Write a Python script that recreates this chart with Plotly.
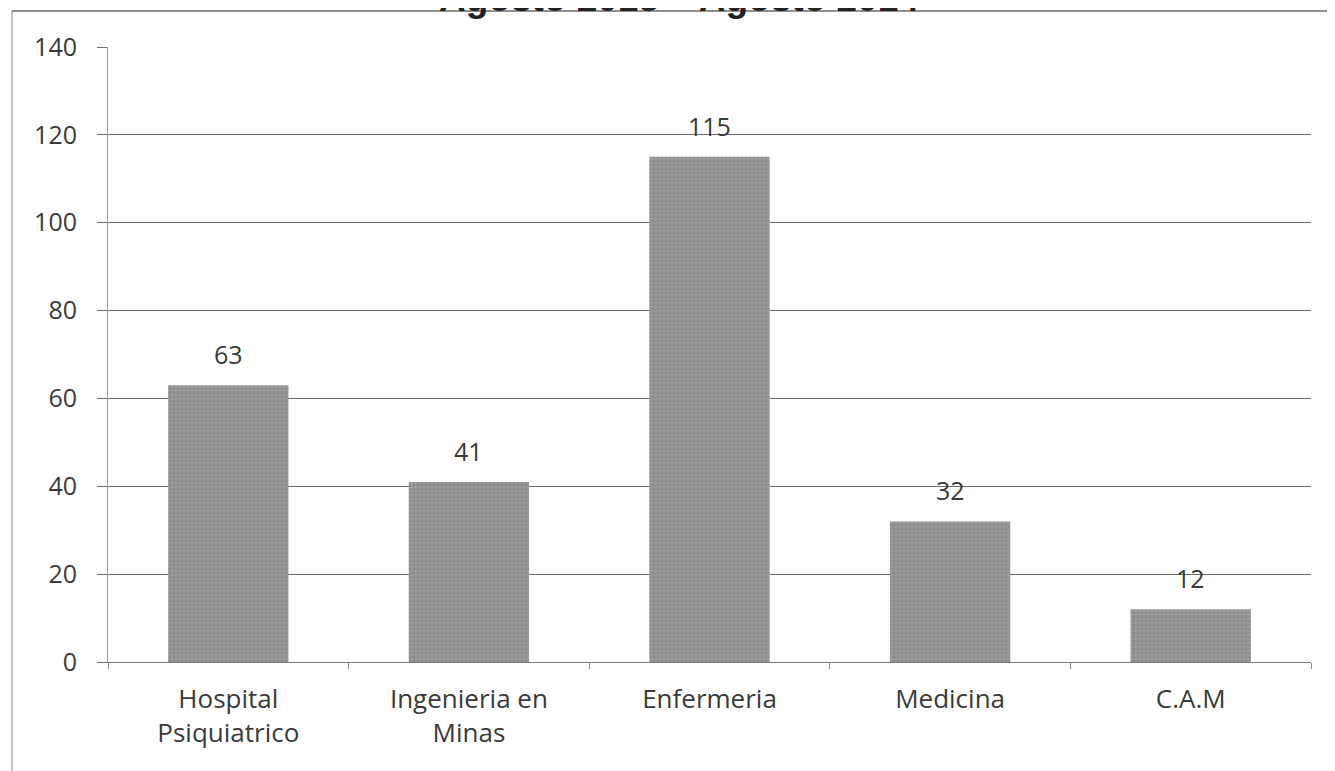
import plotly.graph_objects as go

categories = ["Hospital<br>Psiquiatrico", "Ingenieria en<br>Minas", "Enfermeria", "Medicina", "C.A.M"]
values = [63, 41, 115, 32, 12]
y_ticks = [0, 20, 40, 60, 80, 100, 120, 140]
title_text = "Agosto 2013 – Agosto 2014"

# page has an 8px body margin; figure is sized to fill the rest of the window
OFF = 8
W, H = 1335 - OFF, 771 - OFF
PL, PR, PT, PB = 108, 1311, 47, 662          # plot area in page pixels
L, R, T, B = PL - OFF, W - (PR - OFF), PT - OFF, H - (PB - OFF)

def px_x(p):
    return (p - PL) / (PR - PL)

def px_y(p):
    return (PB - p) / (PB - PT)

FONT = "Open Sans"
TXT = "#3a3a3a"
FS = 25

fig = go.Figure()
fig.add_trace(go.Bar(
    x=categories, y=values,
    marker=dict(color="#8e8e8e", line=dict(width=0),
                pattern=dict(shape=".", fgcolor="#7a7a7a", bgcolor="#9a9a9a", size=4, solidity=0.4)),
    hoverinfo="skip",
))

for c, v in zip(categories, values):
    fig.add_annotation(x=c, y=v, text=str(v), showarrow=False, yanchor="bottom",
                       yshift=12, font=dict(family=FONT, size=FS, color=TXT))

fig.add_annotation(xref="paper", yref="paper", x=px_x(679), y=px_y(-1), text="<b>" + title_text + "</b>",
                   showarrow=False, xanchor="center", yanchor="middle",
                   font=dict(family="Liberation Sans, Arial", size=37, color="#222"))

# outer chart frame (left and top edges)
fig.add_shape(type="line", xref="paper", yref="paper", x0=px_x(12), x1=px_x(12), y0=px_y(11), y1=px_y(771),
              line=dict(color="#8a8a8a", width=1))
fig.add_shape(type="line", xref="paper", yref="paper", x0=px_x(12), x1=px_x(1335), y0=px_y(11), y1=px_y(11),
              line=dict(color="#6a6a6a", width=1.5))

fig.update_layout(
    width=W, height=H,
    margin=dict(l=L, r=R, t=T, b=B, pad=0),
    paper_bgcolor="white", plot_bgcolor="white",
    showlegend=False, bargap=0.5,
    font=dict(family=FONT, size=FS, color=TXT),
)
fig.update_xaxes(
    automargin=False,
    showline=True, linecolor="#7a7a7a", linewidth=1,
    ticks="outside", ticklen=6, tickcolor="#8a8a8a", tickson="boundaries",
    showgrid=False, tickfont=dict(family=FONT, size=26, color=TXT),
    ticklabelstandoff=14,
)
fig.update_yaxes(
    automargin=False,
    range=[0, 140], tickvals=y_ticks, showline=True, linecolor="#9a9a9a", linewidth=1,
    ticks="outside", ticklen=10, tickcolor="#6a6a6a",
    showgrid=True, gridcolor="#6a6a6a", gridwidth=1, zeroline=False,
    tickfont=dict(family=FONT, size=FS, color=TXT), ticklabelstandoff=15,
)

fig.write_html("out.html")
